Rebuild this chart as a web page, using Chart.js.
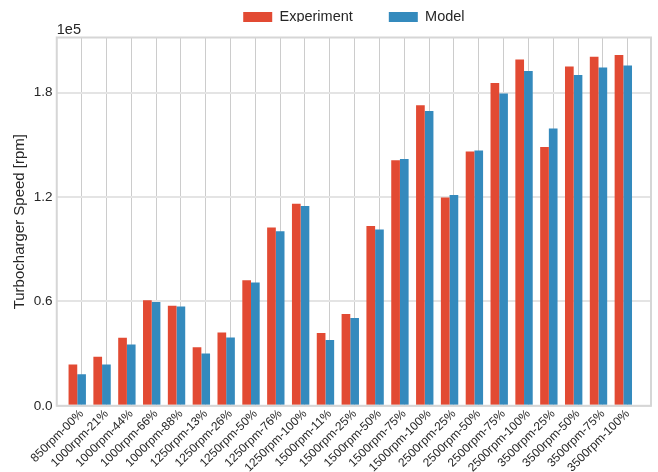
<!DOCTYPE html>
<html>
<head>
<meta charset="utf-8">
<script src="https://cdn.jsdelivr.net/npm/chart.js@4.4.1/dist/chart.umd.min.js"></script>
<style>
  body { margin: 0; background: #fff; }
</style>
</head>
<body>
<canvas id="myChart" width="658" height="472"></canvas>
<script>
// operating points (speed - load)
const labels = [
  '850rpm-00%', '1000rpm-21%', '1000rpm-44%', '1000rpm-66%', '1000rpm-88%',
  '1250rpm-13%', '1250rpm-26%', '1250rpm-50%', '1250rpm-76%', '1250rpm-100%',
  '1500rpm-11%', '1500rpm-25%', '1500rpm-50%', '1500rpm-75%', '1500rpm-100%',
  '2500rpm-25%', '2500rpm-50%', '2500rpm-75%', '2500rpm-100%',
  '3500rpm-25%', '3500rpm-50%', '3500rpm-75%', '3500rpm-100%'
];

// turbocharger speed in rpm
const experiment = [
  23800, 28200, 39100, 60700, 57500,
  33700, 42200, 72200, 102500, 116100,
  41800, 52700, 103400, 141200, 172800,
  119800, 146200, 185500, 199100,
  148700, 195100, 200600, 201600
];
const model = [
  18200, 23800, 35300, 59600, 57100,
  30100, 39300, 70900, 100400, 114800,
  37800, 50400, 101400, 141800, 169400,
  121100, 146800, 179500, 192500,
  159400, 190200, 194500, 195600
];

const yTicks = [0, 60000, 120000, 180000];
const yMax = 211700;

const barWidth = 0.35; // width of one bar, in category units
const textColor = '#262626';

Chart.defaults.font.family = "'Liberation Sans', Arial, Helvetica, sans-serif";
Chart.defaults.color = textColor;

// light box around the plot, like the matplotlib spines
const frame = {
  id: 'frame',
  afterDatasetsDraw(chart) {
    const {ctx, chartArea: a} = chart;
    ctx.save();
    ctx.strokeStyle = '#d6d6d6';
    ctx.lineWidth = 2;
    ctx.strokeRect(a.left, a.top, a.right - a.left, a.bottom - a.top);
    ctx.restore();
  }
};

new Chart(document.getElementById('myChart'), {
  type: 'bar',
  data: {
    datasets: [{
      label: 'Experiment',
      data: experiment.map((v, i) => ({x: i, y: v})),
      backgroundColor: '#E24A33',
      borderWidth: 0
    }, {
      label: 'Model',
      data: model.map((v, i) => ({x: i, y: v})),
      backgroundColor: '#348ABD',
      borderWidth: 0
    }]
  },
  options: {
    responsive: false,
    animation: false,
    devicePixelRatio: 1,
    categoryPercentage: barWidth * 2,
    barPercentage: 1,
    layout: { padding: { top: -26.25, left: 0, right: 7, bottom: -4 } },
    plugins: {
      tooltip: { enabled: false },
      legend: {
        position: 'top',
        fullSize: false,
        maxHeight: 48.25,
        labels: { boxWidth: 29, boxHeight: 10, padding: 36, font: { size: 14.5 }, color: textColor }
      },
      title: {
        display: true,
        text: '1e5',
        align: 'start',
        fullSize: false,
        weight: 500,
        padding: { top: 1, bottom: 0 },
        font: { size: 14.5, weight: 'normal', lineHeight: 1 },
        color: textColor
      }
    },
    scales: {
      x: {
        type: 'linear',
        offset: false,
        min: -0.825,
        max: 23.115,
        // one tick per operating point, centred on the Model bar
        afterBuildTicks: (scale) => {
          scale.ticks = labels.map((l, i) => ({ value: i + barWidth / 2 }));
        },
        ticks: {
          autoSkip: false,
          minRotation: 45,
          maxRotation: 45,
          padding: 1,
          font: { size: 12 },
          color: textColor,
          callback: (v, i) => labels[i]
        },
        grid: { offset: false, color: '#cccccc', lineWidth: 1, drawTicks: false },
        border: { display: false }
      },
      y: {
        min: 0,
        max: yMax,
        afterBuildTicks: (scale) => {
          scale.ticks = yTicks.map(v => ({ value: v }));
        },
        ticks: {
          padding: 4.3,
          font: { size: 13.5 },
          color: textColor,
          callback: v => (v / 1e5).toFixed(1)
        },
        grid: { color: '#e4e4e4', lineWidth: 2, drawTicks: false },
        border: { display: false },
        title: {
          display: true,
          text: 'Turbocharger Speed [rpm]',
          font: { size: 15 },
          color: textColor,
          padding: { top: 11, bottom: 0.4 }
        }
      }
    }
  },
  plugins: [frame]
});
</script>
</body>
</html>
